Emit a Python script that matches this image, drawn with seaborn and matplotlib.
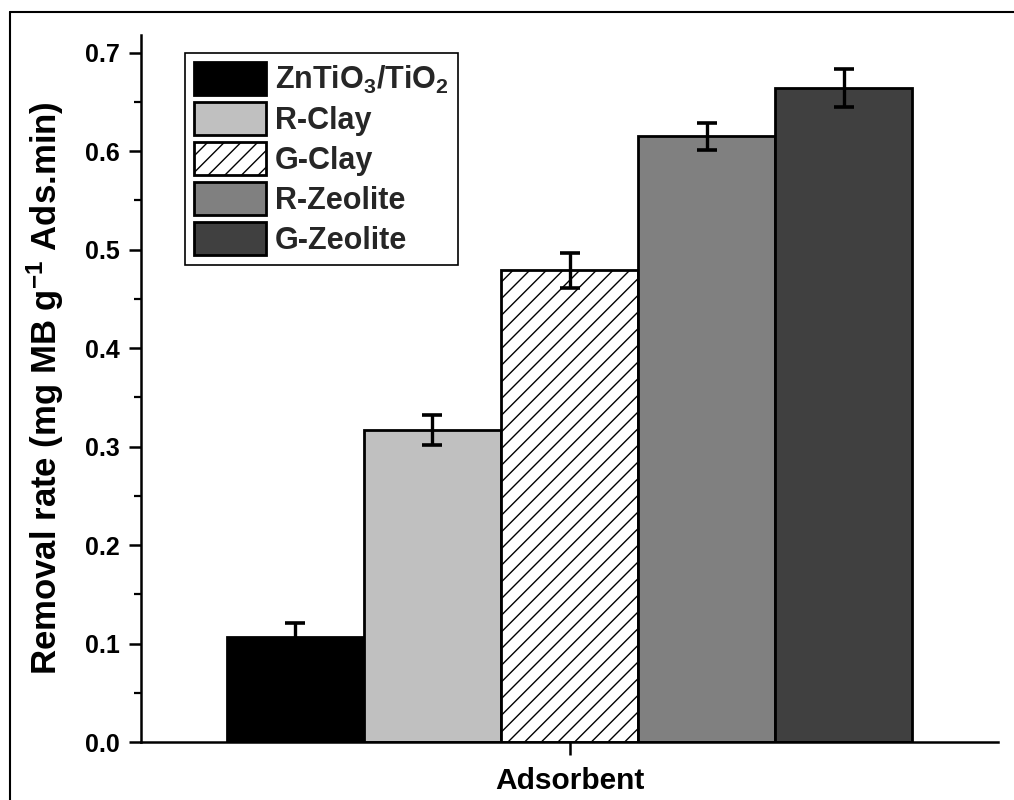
import numpy as np
import pandas as pd
import matplotlib
matplotlib.use("Agg")
import matplotlib.pyplot as plt
import seaborn as sns
from matplotlib.ticker import MultipleLocator, NullFormatter
from matplotlib.lines import Line2D

# ---- data ----
materials = ["ZnTiO$_3$/TiO$_2$", "R-Clay", "G-Clay", "R-Zeolite", "G-Zeolite"]
removal_rate = [0.107, 0.317, 0.479, 0.615, 0.664]
rate_error = [0.014, 0.015, 0.018, 0.014, 0.019]
bar_colors = ["#000000", "#c0c0c0", "#ffffff", "#808080", "#404040"]
bar_hatches = ["", "", "//", "", ""]
x_label = "Adsorbent"
y_label = "Removal rate (mg MB g$^{-1}$ Ads.min)"

df = pd.DataFrame({"group": [""] * len(materials),
                   "material": materials,
                   "rate": removal_rate})

sns.set_theme(style="ticks")
plt.rcParams["font.family"] = ["Liberation Sans", "DejaVu Sans"]
plt.rcParams["font.weight"] = "bold"
plt.rcParams["mathtext.fontset"] = "custom"
plt.rcParams["mathtext.rm"] = "Liberation Sans:bold"
plt.rcParams["mathtext.it"] = "Liberation Sans:bold"
plt.rcParams["mathtext.bf"] = "Liberation Sans:bold"
plt.rcParams["hatch.linewidth"] = 1.0
plt.rcParams["hatch.color"] = "black"

fig = plt.figure(figsize=(10.14, 8.0), dpi=100)
ax = fig.add_axes([141 / 1014, (800 - 742) / 800, (998 - 141) / 1014, (742 - 35) / 800])

sns.barplot(data=df, x="group", y="rate", hue="material", hue_order=materials,
            palette=bar_colors, edgecolor="black", linewidth=2.0,
            width=0.8, gap=0, errorbar=None, saturation=1, legend=False, ax=ax)

handles = []
for cont, h in zip(ax.containers, bar_hatches):
    for p in cont:
        p.set_hatch(h)
        p.set_edgecolor("black")
    handles.append(cont[0])

# error bars at bar centers
xs = [cont[0].get_x() + cont[0].get_width() / 2 for cont in ax.containers]
ax.errorbar(xs, removal_rate, yerr=rate_error, fmt="none", ecolor="black",
            elinewidth=2.4, capsize=7, capthick=2.6, zorder=5)

ax.set_xlim(-0.5, 0.5)
ax.set_ylim(0, 0.718)
ax.yaxis.set_major_locator(MultipleLocator(0.1))
ax.yaxis.set_minor_locator(MultipleLocator(0.05))
ax.yaxis.set_minor_formatter(NullFormatter())
ax.set_yticklabels([f"{v:.1f}" for v in ax.get_yticks()])
ax.set_xticks([0])
ax.set_xticklabels([""])

ax.tick_params(axis="both", which="major", direction="out", length=9, width=1.8,
               labelsize=18, pad=6, color="black", labelcolor="black")
ax.tick_params(axis="y", which="minor", direction="out", length=5, width=1.6, color="black")
for lab in ax.get_yticklabels():
    lab.set_fontweight("bold")

for s in ["top", "right"]:
    ax.spines[s].set_visible(False)
for s in ["left", "bottom"]:
    ax.spines[s].set_linewidth(1.8)
    ax.spines[s].set_color("black")

ax.set_xlabel(x_label, fontsize=21.5, fontweight="bold", labelpad=3, color="black")
ax.set_ylabel(y_label, fontsize=25, fontweight="bold", labelpad=14, color="black")

leg = ax.legend(handles=handles, labels=materials, loc="upper left",
                bbox_to_anchor=(0.051, 0.975), borderaxespad=0,
                prop={"size": 22, "weight": "bold"},
                handlelength=2.35, handleheight=1.3, handletextpad=0.3,
                labelspacing=0.2, borderpad=0.3, frameon=True, fancybox=False)
leg.get_frame().set_edgecolor("black")
leg.get_frame().set_linewidth(1.2)
leg.get_frame().set_alpha(1)

# figure border (left and top)
fig.add_artist(Line2D([10 / 1014, 10 / 1014], [0, 1 - 12 / 800], transform=fig.transFigure,
                      color="black", lw=1.5))
fig.add_artist(Line2D([10 / 1014, 1], [1 - 12 / 800, 1 - 12 / 800], transform=fig.transFigure,
                      color="black", lw=1.5))

fig.savefig("out.png", dpi=100, facecolor="white")
